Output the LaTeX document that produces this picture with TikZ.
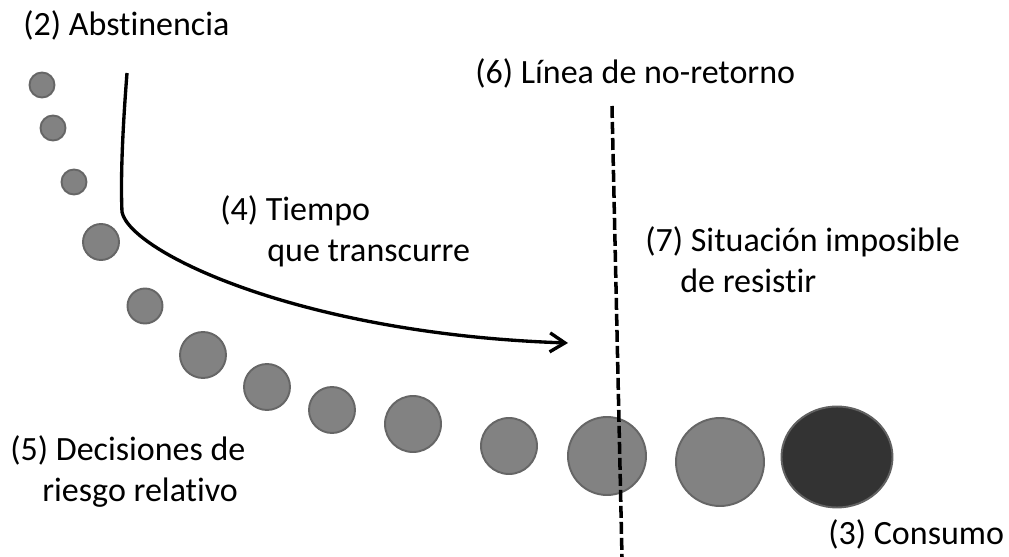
\documentclass[tikz,border=0pt]{standalone}
\usepackage{fontspec}
\setmainfont{Carlito}[Ligatures=NoCommon]
\usetikzlibrary{arrows.meta,shapes.geometric}

\begin{document}
\begin{tikzpicture}[
      x=0.02cm, y=-0.02cm,
      Label/.style={anchor=base west, inner sep=0pt, align=left,
        font=\fontsize{19.35pt}{23.9pt}\selectfont},
      Dot/.style={circle, draw=black!60, fill=black!49, line width=1.1pt, inner sep=0pt},
      ]
      \useasboundingbox (0,0) rectangle (1009,557);

      % the steps towards consumption
      \foreach \n/\x/\y/\d in {1/42/85/25, 2/53/128/25, 3/74/182/25, 4/101/242/36,
          5/145/306/35, 6/203/355/46, 7/267/387/46, 8/332/410/46, 9/413/424/56,
          10/509/446/56, 11/607/456/78, 12/720/462/88}
        \node[Dot, minimum size=\d*0.02cm] (c\n) at (\x,\y) {};
      \node[ellipse, draw=black!62, fill=black!80, line width=1.1pt, inner sep=0pt,
        minimum width=111*0.02cm, minimum height=101*0.02cm] (use) at (837,457) {};

      % line of no return
      \coordinate (top) at (612,106);
      \coordinate (bottom) at (622,557);
      \draw[line width=2pt, dash pattern=on 0.24cm off 0.08cm] (top) -- (bottom);

      % time going by
      \coordinate (start) at (127,73);
      \coordinate (bend) at (122,212);
      \coordinate (end) at (568,343);
      \draw[line width=1.9pt, -{Straight Barb[length=0.3cm, width=0.38cm]}]
        (start) .. controls (121,150) and (121,190) .. (bend)
        .. controls (130,252) and (300,334) .. (end);

      % labels (the base of a two-line label is on its last line)
      \node[Label] (abst) at (23,36) {(2) Abstinencia};
      \node[Label] (noret) at (475,84) {(6) Línea de no-retorno};
      \node[Label] (tiempo) at (220,262) {(4) Tiempo\\\hspace{0.94cm}que transcurre};
      \node[Label] (sit) at (645,293) {(7) Situación imposible\\\hspace{0.7cm}de resistir};
      \node[Label] (dec) at (10,502) {(5) Decisiones de\\\hspace{0.64cm}riesgo relativo};
      \node[Label] (cons) at (828,545) {(3) Consumo};
    \end{tikzpicture}
\end{document}
